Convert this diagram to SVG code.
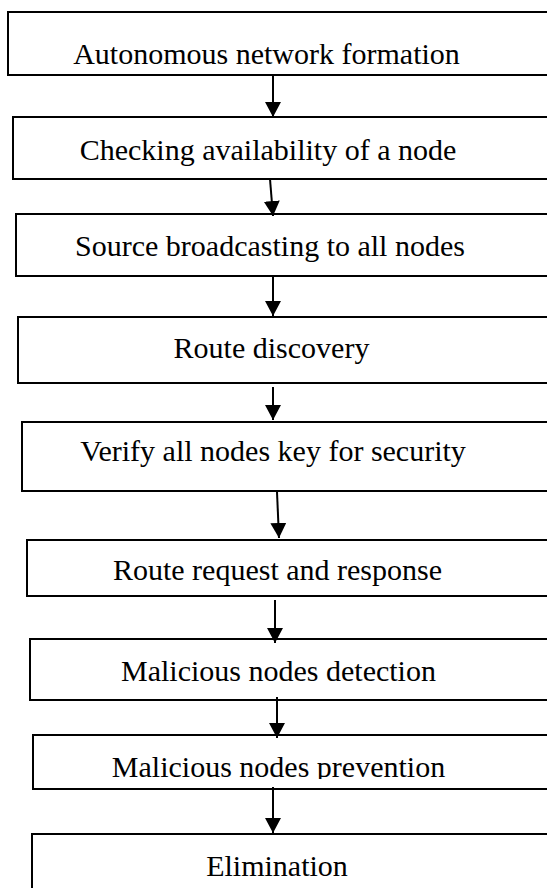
<svg xmlns="http://www.w3.org/2000/svg" width="547" height="888" viewBox="0 0 547 888">
<style>
.box{fill:#fff;stroke:#000;stroke-width:2}
.lbl{font-family:"Liberation Serif","Times New Roman",serif;font-size:30px;fill:#000;text-anchor:middle}
.edge{stroke:#000;stroke-width:2;fill:none;marker-end:url(#ah)}
</style>
<defs>
<marker id="ah" markerUnits="userSpaceOnUse" markerWidth="16" markerHeight="16" viewBox="0 0 16 16" refX="15" refY="8" orient="auto">
<polygon points="0,0 15,8 0,16" fill="#000"/>
</marker>
<clipPath id="clip8"><rect x="0" y="735" width="547" height="44"/></clipPath>
</defs>
<rect width="547" height="888" fill="#fff"/>
<g id="n1"><rect class="box" x="8" y="12" width="600" height="63"/><text class="lbl" x="266.5" y="64">Autonomous network formation</text></g>
<g id="n2"><rect class="box" x="13" y="117" width="600" height="62"/><text class="lbl" x="268" y="160">Checking availability of a node</text></g>
<g id="n3"><rect class="box" x="16" y="214" width="600" height="62"/><text class="lbl" x="270" y="256">Source broadcasting to all nodes</text></g>
<g id="n4"><rect class="box" x="18" y="317" width="600" height="66"/><text class="lbl" x="271.5" y="358">Route discovery</text></g>
<g id="n5"><rect class="box" x="22" y="422" width="600" height="69"/><text class="lbl" x="273" y="461">Verify all nodes key for security</text></g>
<g id="n6"><rect class="box" x="27" y="540" width="600" height="56"/><text class="lbl" x="277.5" y="580">Route request and response</text></g>
<g id="n7"><rect class="box" x="30" y="639" width="600" height="61"/><text class="lbl" x="278.5" y="681">Malicious nodes detection</text></g>
<g id="n8"><rect class="box" x="33" y="735" width="600" height="54"/><text class="lbl" x="278.5" y="777" clip-path="url(#clip8)">Malicious nodes prevention</text></g>
<g id="n9"><rect class="box" x="32" y="834" width="600" height="80"/><text class="lbl" x="277" y="876">Elimination</text></g>
<g id="edges">
<line class="edge" x1="273" y1="75" x2="273" y2="117"/>
<line class="edge" x1="270" y1="179" x2="273" y2="216"/>
<line class="edge" x1="273" y1="276" x2="273" y2="316"/>
<line class="edge" x1="273" y1="387" x2="273" y2="420"/>
<line class="edge" x1="277" y1="492" x2="279" y2="538"/>
<line class="edge" x1="275" y1="600" x2="275" y2="643"/>
<line class="edge" x1="277" y1="697" x2="277" y2="738"/>
<line class="edge" x1="273" y1="787" x2="273" y2="833"/>
</g>
</svg>
